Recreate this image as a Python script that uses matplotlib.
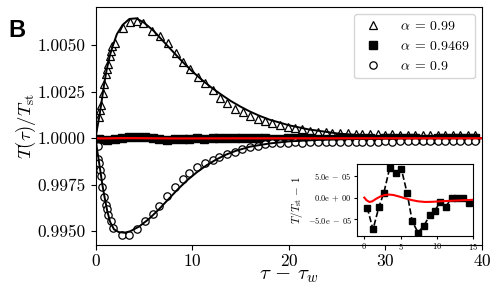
import matplotlib
matplotlib.use("Agg")
import matplotlib.pyplot as plt
from matplotlib.ticker import FuncFormatter

plt.rcParams.update({
    "font.family": "serif",
    "font.serif": ["cmr10"],
    "mathtext.fontset": "cm",
    "axes.formatter.use_mathtext": True,
})

# alpha = 0.99 (triangles)
tri_tau = [0.36, 0.46, 0.57, 0.74, 0.88, 1.05, 1.15, 1.32, 1.49, 1.60, 1.73, 2.01,
           2.80, 3.56, 4.25, 4.93, 5.79, 6.65, 7.51, 8.30, 9.05, 9.74, 10.60, 11.36,
           12.14, 12.84, 13.63, 14.45, 15.24, 16.03, 16.78, 17.55, 18.3, 19.1, 19.9,
           20.6, 21.4, 22.2, 23.0, 23.8, 24.5, 25.3, 26.1, 26.9, 27.6, 28.4, 29.2,
           30.0, 30.7, 31.5, 32.3, 33.1, 33.9, 34.6, 35.4, 36.2, 37.0, 37.7, 38.5, 39.3]
tri_val = [1.00114, 1.00153, 1.00180, 1.00244, 1.00294, 1.00343, 1.00370, 1.00400,
           1.00442, 1.00469, 1.00496, 1.00514, 1.00595, 1.00628, 1.00631, 1.00619,
           1.00577, 1.00550, 1.00510, 1.00456, 1.00411, 1.00370, 1.00330, 1.00298,
           1.00258, 1.00217, 1.00189, 1.00157, 1.00139, 1.00121, 1.00103, 1.00094,
           1.00082, 1.00072, 1.00063, 1.00055, 1.00049, 1.00040, 1.00035, 1.00031,
           1.00029, 1.00027, 1.00026, 1.00024, 1.00023, 1.00022, 1.00022, 1.00020,
           1.00021, 1.00019, 1.00019, 1.00018, 1.00019, 1.00017, 1.00017, 1.00018,
           1.00016, 1.00016, 1.00015, 1.00016]
tri_fit_tau = [0, 0.15, 0.36, 0.57, 0.88, 1.15, 1.5, 1.8, 2.2, 2.8, 3.5, 4.2, 5.0,
               6.0, 7.0, 8.0, 9.0, 10.0, 11.0, 12.0, 13.0, 14.0, 15.0, 16.0, 17.0,
               18.0, 20.0, 22.0, 25.0, 28.0, 32.0, 36.0, 40.0]
tri_fit = [1.0, 1.0005, 1.0011, 1.0018, 1.0029, 1.0037, 1.0045, 1.0050, 1.0056,
           1.00610, 1.00642, 1.00645, 1.00622, 1.00578, 1.00522, 1.00466, 1.00411,
           1.00360, 1.00314, 1.00272, 1.00235, 1.00200, 1.00170, 1.00143, 1.00120,
           1.00100, 1.00070, 1.00048, 1.00026, 1.00013, 1.00005, 1.00002, 1.00001]

# alpha = 0.9469 (squares), deviations in units of 1e-5
sq_tau = [0.4, 1.2, 2.0, 2.7, 3.5, 4.3, 5.1, 5.9, 6.6, 7.4, 8.2, 9.0, 9.7, 10.5,
          11.2, 12.1, 12.8, 13.6, 14.4, 15.2, 16.0, 16.8, 17.5, 18.3, 19.1, 19.9,
          20.6, 21.4, 22.2, 23.0, 23.8, 24.5, 25.3, 26.1, 26.9, 27.6, 28.4, 29.2,
          30.0, 30.7, 31.5, 32.3, 33.1, 33.9, 34.6, 35.4, 36.2, 37.0, 37.7, 38.5, 39.3]
sq_dev = [-2.3, -7.3, -2.2, 1.15, 6.8, 5.7, 6.6, 1.05, -5.4, -8.0, -6.5, -4.1, -3.0,
          -1.0, -2.1, 0.0, 0.0, 0.0, -1.2, 1.5, 3.0, 2.2, -0.5, -2.8, -1.6, 0.8, 2.6,
          3.4, 1.2, -1.5, -3.1, -2.0, 0.4, 1.9, 2.7, 1.1, -0.9, -2.4, -1.3, 0.6, 2.1,
          1.4, -0.3, -1.8, -2.2, -0.7, 1.0, 1.6, 0.5, -0.8, -1.2]
# theory (red), deviations in units of 1e-5
red_tau = [0, 0.3, 0.7, 1.1, 1.6, 2.2, 2.8, 3.4, 4.0, 4.8, 5.6, 6.5, 7.4, 8.4, 9.5,
           11.0, 13.0, 15.0, 20.0, 30.0, 40.0]
red_dev = [0, -0.6, -1.0, -0.85, -0.3, 0.25, 0.6, 0.7, 0.6, 0.25, -0.15, -0.55,
           -0.85, -1.0, -0.95, -0.8, -0.65, -0.5, -0.4, -0.2, -0.1]

# alpha = 0.9 (circles)
circ_tau = [0.22, 0.29, 0.36, 0.46, 0.57, 0.70, 0.88, 1.05, 1.15, 1.32, 1.57, 1.84,
            2.7, 3.5, 4.3, 5.1, 5.9, 6.6, 7.4, 8.2, 9.0, 9.7, 10.5, 11.3, 12.1, 12.8,
            13.6, 14.4, 15.2, 16.0, 16.8, 17.5, 18.3, 19.1, 19.9, 20.6, 21.4, 22.2,
            23.0, 23.8, 24.5, 25.3, 26.1, 26.9, 27.6, 28.4, 29.2, 30.0, 30.7, 31.5,
            32.3, 33.1, 33.9, 34.6, 35.4, 36.2, 37.0, 37.7, 38.5, 39.3]
circ_val = [0.99958, 0.99888, 0.99865, 0.99829, 0.99798, 0.99738, 0.99684, 0.99639,
            0.99621, 0.99585, 0.99553, 0.99516, 0.99482, 0.99482, 0.99513, 0.99553,
            0.99594, 0.99635, 0.99688, 0.99738, 0.99780, 0.99814, 0.99843, 0.99865,
            0.99883, 0.99900, 0.99915, 0.99928, 0.99942, 0.99951, 0.99960, 0.99968,
            0.99972, 0.99975, 0.99977, 0.99978, 0.99977, 0.99979, 0.99978, 0.99980,
            0.99979, 0.99981, 0.99980, 0.99981, 0.99982, 0.99981, 0.99982, 0.99983,
            0.99982, 0.99983, 0.99984, 0.99983, 0.99984, 0.99985, 0.99984, 0.99985,
            0.99986, 0.99985, 0.99986, 0.99986]
circ_fit_tau = [0, 0.15, 0.3, 0.5, 0.7, 0.9, 1.2, 1.5, 1.9, 2.4, 3.0, 3.6, 4.5, 5.5,
                6.5, 7.5, 8.5, 9.5, 10.5, 11.5, 12.5, 13.5, 14.5, 16.0, 18.0, 20.0,
                23.0, 27.0, 32.0, 40.0]
circ_fit = [1.0, 0.9994, 0.9989, 0.9982, 0.9975, 0.9969, 0.9961, 0.9955, 0.9951,
            0.99495, 0.99492, 0.99500, 0.99525, 0.99565, 0.99615, 0.99670, 0.99725,
            0.99775, 0.99818, 0.99855, 0.99886, 0.99912, 0.99932, 0.99955, 0.99972,
            0.99983, 0.99991, 0.99996, 0.99999, 1.0]

labels = [r"$\alpha \:=\: 0.99$", r"$\alpha \:=\: 0.9469$", r"$\alpha \:=\: 0.9$"]


def sci_tick(x, pos):
    s = f"{x:.1e}"
    mant, exp = s.split("e")
    return "$" + mant + r"{\rm e}\;" + exp[0] + r"\;" + exp[1:] + "$"


fig = plt.figure(figsize=(4.98, 2.95), dpi=100)
ax = fig.add_axes([0.192, 0.169, 0.776, 0.806])

ms = 5.3
ax.plot(tri_tau, tri_val, ls="none", marker="^", ms=ms, mfc="white", mec="black",
        mew=0.9, label=labels[0])
ax.plot(sq_tau, [1 + d * 1e-5 for d in sq_dev], ls="none", marker="s", ms=ms + 0.5,
        color="black", label=labels[1])
ax.plot(circ_tau, circ_val, ls="none", marker="o", ms=ms, mfc="white", mec="black",
        mew=0.9, label=labels[2])
ax.plot(tri_fit_tau, tri_fit, color="black", lw=1.4)
ax.plot(circ_fit_tau, circ_fit, color="black", lw=1.4)
ax.plot(red_tau, [1 + d * 1e-5 for d in red_dev], color="red", lw=1.6)

ax.set_xlim(0, 40)
ax.set_ylim(0.99425, 1.00704)
ax.set_xticks([0, 10, 20, 30, 40])
ax.set_yticks([0.995, 0.9975, 1.0, 1.0025, 1.005])
ax.yaxis.set_major_formatter(FuncFormatter(lambda x, p: f"{x:.4f}"))
ax.tick_params(labelsize=12.5)
ax.tick_params(axis="x", pad=2)
ax.set_xlabel(r"$\tau \,-\, \tau_w$", fontsize=15, labelpad=-1)
ax.set_ylabel(r"$T(\tau)/T_{\rm st}$", fontsize=13.5, labelpad=0)
ax.legend(loc="upper right", fontsize=10, handletextpad=0.9)

ins = fig.add_axes([0.717, 0.2, 0.233, 0.244])
ins.plot(sq_tau[:19], [d * 1e-5 for d in sq_dev[:19]], color="black", ls="--",
         lw=1.2, marker="s", ms=3.8)
ins.plot(red_tau[:18], [d * 1e-5 for d in red_dev[:18]], color="red", lw=1.5)
ins.set_xlim(-1, 15)
ins.set_ylim(-8.8e-5, 7.7e-5)
ins.set_xticks([0, 5, 10, 15])
ins.set_yticks([-5e-5, 0, 5e-5])
ins.yaxis.set_major_formatter(FuncFormatter(sci_tick))
ins.tick_params(labelsize=6, length=2, pad=1.5)
ins.set_ylabel(r"$T/T_{\rm st} \,-\, 1$", fontsize=8, labelpad=2)

fig.text(0.016, 0.935, "B", fontsize=17, fontweight="bold", family="Liberation Sans",
         va="top", ha="left")

fig.savefig("out.png", dpi=100)
